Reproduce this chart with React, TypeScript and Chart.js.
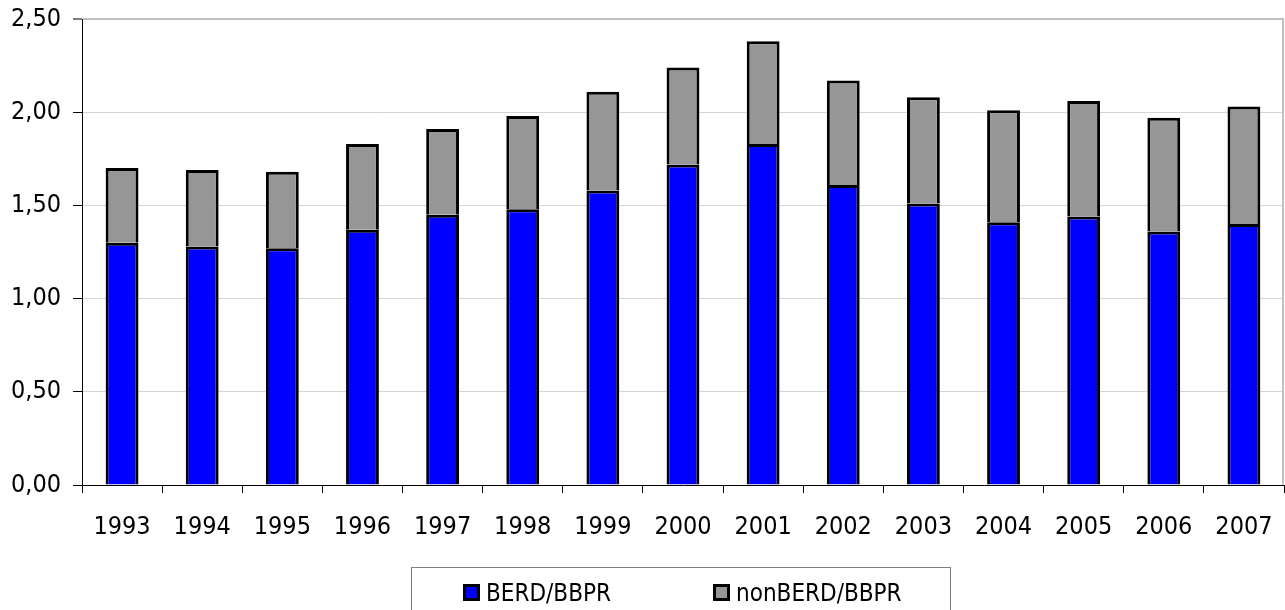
import React, { useEffect, useRef } from "react";
import { Chart, registerables } from "chart.js";

Chart.register(...registerables);

const years = ["1993", "1994", "1995", "1996", "1997", "1998", "1999", "2000", "2001", "2002", "2003", "2004", "2005", "2006", "2007"];
const berd = [1.30, 1.28, 1.27, 1.37, 1.45, 1.48, 1.58, 1.72, 1.83, 1.61, 1.51, 1.41, 1.44, 1.36, 1.40];
const nonBerd = [0.40, 0.41, 0.41, 0.46, 0.46, 0.50, 0.53, 0.52, 0.55, 0.56, 0.57, 0.60, 0.62, 0.61, 0.63];
const seriesLabels = ["BERD/BBPR", "nonBERD/BBPR"];
const seriesColors = ["#0000FF", "#969696"];

const FONT = "'DejaVu Sans Condensed', 'Liberation Sans', sans-serif";

const framePlugin = {
  id: "frameAndLegend",
  afterDraw(chart: any) {
    const { ctx, chartArea } = chart;
    ctx.save();
    // right border of plot area
    ctx.strokeStyle = "#c0c0c0";
    ctx.lineWidth = 2;
    ctx.beginPath();
    ctx.moveTo(chartArea.right - 1, chartArea.top - 1);
    ctx.lineTo(chartArea.right - 1, chartArea.bottom);
    ctx.stroke();

    // legend box
    ctx.strokeStyle = "#808080";
    ctx.lineWidth = 1;
    ctx.strokeRect(411.5, 567.5, 539, 60);

    ctx.font = `24px ${FONT}`;
    ctx.textBaseline = "alphabetic";
    ctx.textAlign = "left";
    const xs = [463, 713];
    chart.data.datasets.forEach((ds: any, i: number) => {
      const x = xs[i];
      ctx.fillStyle = ds.backgroundColor;
      ctx.fillRect(x, 584, 17, 17);
      ctx.strokeStyle = "#000";
      ctx.lineWidth = 3;
      ctx.strokeRect(x + 1.5, 585.5, 14, 14);
      ctx.fillStyle = "#000";
      ctx.fillText(ds.label, x + 23, 601);
    });
    ctx.restore();
  },
};

export default function App() {
  const ref = useRef<HTMLCanvasElement | null>(null);
  useEffect(() => {
    if (!ref.current) return;
    const chart = new Chart(ref.current, {
      type: "bar",
      data: {
        labels: years,
        datasets: [
          {
            label: seriesLabels[0],
            data: berd,
            backgroundColor: seriesColors[0],
            borderColor: "#000",
            borderWidth: 3,
          },
          {
            label: seriesLabels[1],
            data: nonBerd,
            backgroundColor: seriesColors[1],
            borderColor: "#000",
            borderWidth: 3,
          },
        ],
      },
      options: {
        responsive: false,
        animation: false,
        layout: { padding: { top: 19, right: 1, bottom: 0, left: 0 } },
        plugins: { legend: { display: false }, tooltip: { enabled: false } },
        datasets: { bar: { categoryPercentage: 1, barPercentage: 0.41, inflateAmount: 0 } },
        scales: {
          x: {
            stacked: true,
            offset: true,
            afterFit: (s: any) => {
              s.height = 125;
              s.paddingLeft = 0;
              s.paddingRight = 0;
            },
            grid: {
              offset: true,
              drawOnChartArea: false,
              drawTicks: true,
              tickLength: 8,
              tickColor: "#000",
              tickWidth: 1,
              color: "#000",
            },
            border: { display: true, color: "#000", width: 1 },
            ticks: {
              color: "#000",
              font: { family: FONT, size: 25 },
              padding: 19,
              maxRotation: 0,
              autoSkip: false,
            },
          },
          y: {
            stacked: true,
            min: 0,
            max: 2.5,
            afterFit: (s: any) => {
              s.width = 82;
              s.paddingTop = 0;
              s.paddingBottom = 0;
            },
            grid: {
              color: (c: any) =>
                c.tick && c.tick.value === 2.5 ? "#c0c0c0" : c.tick && c.tick.value === 0 ? "rgba(0,0,0,0)" : "#d4d4d4",
              lineWidth: (c: any) => (c.tick && c.tick.value === 2.5 ? 2 : 1),
              drawTicks: true,
              tickLength: 9,
              tickColor: "#000",
              tickWidth: 1,
            },
            border: { display: true, color: "#000", width: 1 },
            ticks: {
              stepSize: 0.5,
              color: "#000",
              padding: 12,
              font: { family: FONT, size: 25 },
              callback: (v: any) => Number(v).toFixed(2).replace(".", ","),
            },
          },
        },
      },
      plugins: [framePlugin],
    });
    return () => chart.destroy();
  }, []);
  return (
    <div style={{ position: "absolute", left: 0, top: 0, width: 1285, height: 610, background: "#fff" }}>
      <canvas ref={ref} width={1285} height={610} style={{ display: "block" }} />
    </div>
  );
}
